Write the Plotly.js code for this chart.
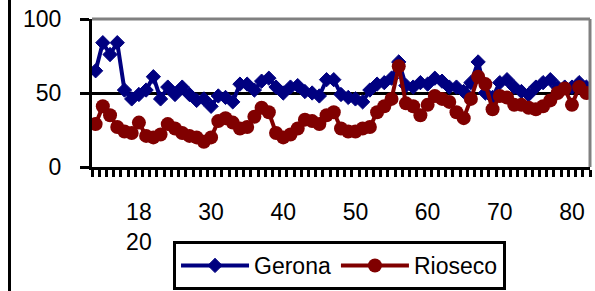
<!DOCTYPE html>
<html>
<head>
<meta charset="utf-8">
<script src="https://cdn.plot.ly/plotly-3.0.1.min.js"></script>
<style>
  html, body { margin: 0; padding: 0; background: #fff; }
  #wrap { position: relative; width: 595px; height: 291px; overflow: hidden; }
  #chart { width: 595px; height: 291px; }
  #edge { position: absolute; left: 7.5px; top: 0; width: 3px; height: 291px; background: #000; }
</style>
</head>
<body>
<div id="wrap"><div id="chart"></div><div id="edge"></div></div>
<script>
const years = [1814,1815,1816,1817,1818,1819,1820,1821,1822,1823,1824,1825,1826,1827,1828,1829,
  1830,1831,1832,1833,1834,1835,1836,1837,1838,1839,1840,1841,1842,1843,1844,1845,1846,1847,1848,1849,
  1850,1851,1852,1853,1854,1855,1856,1857,1858,1859,1860,1861,1862,1863,1864,1865,1866,1867,1868,1869,
  1870,1871,1872,1873,1874,1875,1876,1877,1878,1879,1880,1881,1882];

const gerona = [65,84,76,84,52,46,49,52,61,46,54,49,54,49,45,46,
  41,48,47,44,56,56,52,58,60,54,50,54,55,51,50,48,59,59,49,47,
  46,44,52,56,57,60,71,55,54,57,56,60,58,54,54,51,57,71,50,47,
  57,59,54,51,49,54,57,59,54,54,54,57,54];

const rioseco = [29,41,35,27,24,23,30,21,20,22,29,26,23,21,20,17,
  20,31,33,30,26,27,34,40,37,23,20,22,26,32,31,29,35,37,26,24,
  24,26,27,37,41,46,68,43,41,35,42,48,46,44,37,33,46,61,56,39,
  48,47,42,42,40,39,41,45,50,53,42,54,50];

const tickYears = [1820,1830,1840,1850,1860,1870,1880];
const tickLabels = ['18<br>20','30','40','50','60','70','80'];
const yTicks = [0,50,100];

const FONT = 'Liberation Sans, Arial, sans-serif';

const traces = [
  {
    x: years, y: gerona, name: 'Gerona', type: 'scatter', mode: 'lines+markers',
    line: {color: '#000080', width: 4},
    marker: {symbol: 'diamond', size: 11, color: '#000080', line: {color: '#000080', width: 1}}
  },
  {
    x: years, y: rioseco, name: 'Rioseco', type: 'scatter', mode: 'lines+markers',
    line: {color: '#800000', width: 4},
    marker: {symbol: 'circle', size: 14, color: '#800000'}
  }
];

const layout = {
  width: 595, height: 291,
  margin: {l: 92, r: 5, t: 19, b: 124, pad: 0, autoexpand: false},
  paper_bgcolor: '#fff', plot_bgcolor: '#fff',
  font: {family: FONT, size: 23, color: '#000'},
  showlegend: true,
  legend: {
    orientation: 'h', x: 0.1627, y: -0.5, xanchor: 'left', yanchor: 'top',
    bordercolor: '#000', borderwidth: 3, bgcolor: '#fff',
    font: {family: FONT, size: 23, color: '#000'},
    itemwidth: 68, tracegroupgap: 0
  },
  xaxis: {
    type: 'linear', range: [1813.5, 1882.5], fixedrange: true,
    showgrid: false, zeroline: false,
    showline: true, linecolor: '#000', linewidth: 3,
    tickmode: 'array', tickvals: tickYears, ticktext: tickLabels,
    ticks: '', ticklabelstandoff: 22,
    tickfont: {family: FONT, size: 23, color: '#000'},
    minor: {tick0: 1813.5, dtick: 1, ticks: 'outside', ticklen: 7, tickwidth: 3, tickcolor: '#000', showgrid: false}
  },
  yaxis: {
    range: [0, 100], fixedrange: true,
    tickmode: 'array', tickvals: yTicks,
    showgrid: true, gridcolor: '#000', gridwidth: 3,
    zeroline: false,
    showline: true, linecolor: '#000', linewidth: 3,
    ticks: 'outside', ticklen: 9, tickwidth: 3, tickcolor: '#000',
    ticklabelstandoff: 14,
    tickfont: {family: FONT, size: 23, color: '#000'}
  },
  shapes: [
    {type: 'line', xref: 'paper', yref: 'paper', x0: 0, x1: 1, y0: 1, y1: 1, line: {color: '#808080', width: 3}},
    {type: 'line', xref: 'paper', yref: 'paper', x0: 1, x1: 1, y0: 0, y1: 1, line: {color: '#808080', width: 3}}
  ]
};

Plotly.newPlot('chart', traces, layout, {displayModeBar: false, staticPlot: true});
</script>
</body>
</html>
